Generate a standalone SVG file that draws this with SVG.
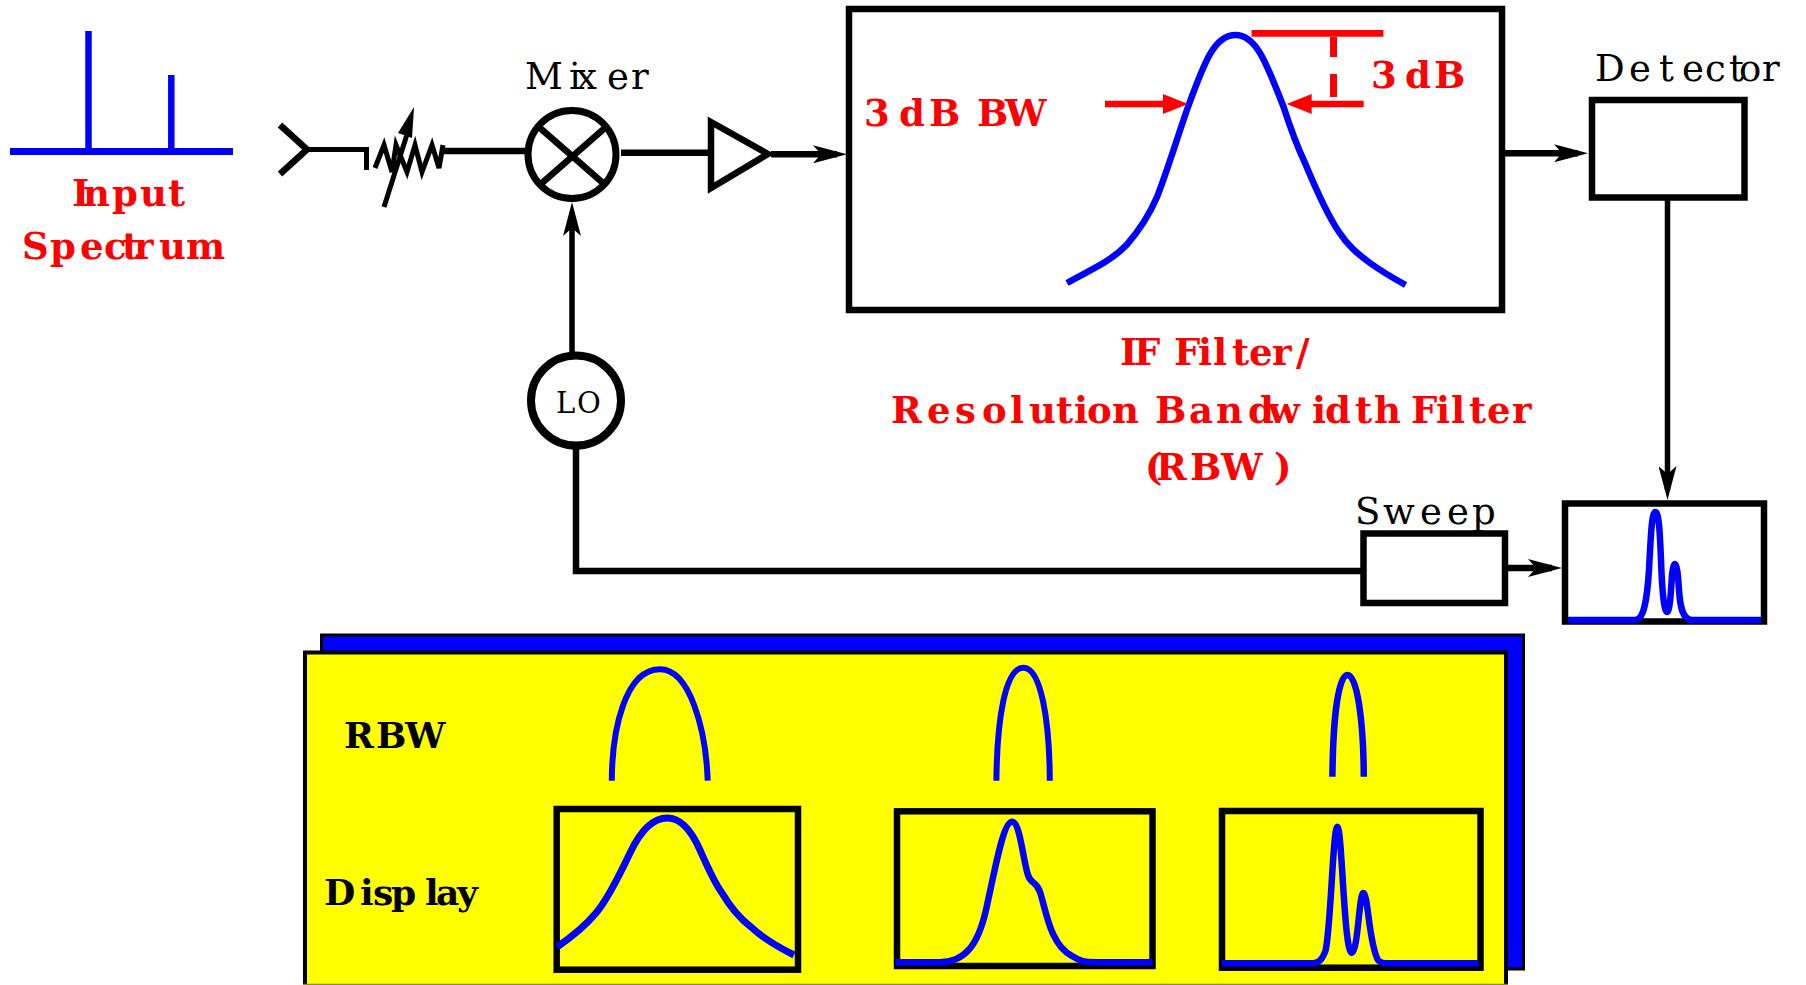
<svg xmlns="http://www.w3.org/2000/svg" width="1806" height="985" viewBox="0 0 1806 985">
<style>
.l{fill:none;stroke:#000;stroke-width:6.5}
.b{fill:none;stroke:#00f;stroke-width:6.5}
.box{fill:#fff;stroke:#000;stroke-width:6.5}
.ybox{fill:#ff0;stroke:#000;stroke-width:6.5}
.red{font-family:"DejaVu Serif",serif;font-weight:bold;font-size:37px;fill:#f00}
.blk{font-family:"DejaVu Serif",serif;font-size:37px;fill:#000}
.bb{font-family:"DejaVu Serif",serif;font-weight:bold;font-size:36px;fill:#000}
</style>
<defs>
<marker id="ah" markerUnits="userSpaceOnUse" markerWidth="36" markerHeight="18" viewBox="0 0 34 18" refX="24" refY="9" orient="auto"><path d="M0 0L34 9L0 18L8 9Z" fill="#000"/></marker>
<marker id="rh" markerUnits="userSpaceOnUse" markerWidth="26" markerHeight="20" viewBox="0 0 25 20" refX="4" refY="10" orient="auto"><path d="M0 0L25 10L0 20Z" fill="#f00"/></marker>
</defs>
<rect width="1806" height="985" fill="#fff"/>
<g id="input-spectrum">
<path d="M10 151.500H233" class="b" style="stroke-width:7"/>
<path d="M88.500 31V150M171.300 75V150" class="b"/>
<text class="red" y="206" x="72 83 112 140 168">Input</text>
<text class="red" y="259" x="22 50 80 104 122 134 159 186">Spectrum</text>
</g>
<g id="antenna"><path d="M280 125L307 149.500L280 174" class="l"/></g>
<g id="attenuator">
<path d="M375 168L384 145L392 172L396 145L407 172L415 145L422 172L432 145L439 168L443 145" class="l" style="stroke-width:5"/>
<path d="M384 207L410 125" class="l" style="stroke-width:5"/>
<path d="M414 107L398 133L412 138Z" fill="#000"/>
</g>
<g id="mixer">
<circle cx="572" cy="154.500" r="44" class="box" style="stroke-width:7"/>
<path d="M540 128L603 183M606 127L542 183" class="l"/>
<text class="blk" y="89" x="525 569 576 607 631">Mixer</text>
</g>
<g id="amplifier"><path d="M711 122L768 154L711 188Z" class="box"/></g>
<g id="if-filter">
<rect x="849" y="9" width="653" height="301" class="box"/>
<path d="M1067 283C1090 270 1110 262 1126.500 245C1137 233 1148 218 1157 197C1167 172 1179 132 1188 107C1205 60 1215 35 1235.500 35C1256 35 1266 62 1283.600 107C1291 130 1297 146 1305 163C1315 187 1326 213 1339 232C1348 246 1358 254 1370 263C1381 271 1393 278 1405.600 285" class="b"/>
<path d="M1251.600 33.300H1383.400" fill="none" stroke="#f00" stroke-width="6.700"/>
<path d="M1333.500 37V57M1333.500 74V97" fill="none" stroke="#f00" stroke-width="7"/>
<path d="M1105 104H1167" fill="none" stroke="#f00" stroke-width="6.500" marker-end="url(#rh)"/>
<path d="M1363.700 104H1307.700" fill="none" stroke="#f00" stroke-width="6.500" marker-end="url(#rh)"/>
<text class="red" y="87.500" x="1371 1395 1405 1434">3 dB</text>
<text class="red" y="125.500" x="864 888 899 929 965 977 1005">3 dB BW</text>
<text class="red" y="365" x="1120 1134 1165 1174 1198 1213 1232 1249 1272 1296">IF Filter/</text>
<text class="red" y="422.500" x="891 927 955 982 1010 1029 1056 1074 1087 1112 1145 1155 1189 1216 1248 1268 1312 1325 1355 1374 1400 1411 1436 1451 1469 1487 1512">Resolution Bandwidth Filter</text>
<text class="red" y="480" x="1145 1156 1190 1221 1262 1274">(RBW )</text>
</g>
<g id="detector">
<rect x="1592" y="100" width="152.500" height="97.500" class="box"/>
<text class="blk" y="80.500" x="1595 1629 1659 1682 1705 1729 1739 1762">Detector</text>
</g>
<g id="lo">
<circle cx="576" cy="400.500" r="45" class="box" style="stroke-width:8"/>
<text class="blk" y="412.500" style="font-size:29px" x="556 577">LO</text>
</g>
<g id="sweep">
<rect x="1363.500" y="533.500" width="141.500" height="69.500" class="box"/>
<text class="blk" y="523.500" x="1355 1383 1420 1447 1472">Sweep</text>
</g>
<g id="display">
<rect x="1565" y="503.500" width="199" height="118" class="box"/>
<path d="M1568 620H1635C1644 620 1647 600 1649 570C1651 530 1652 512 1655.500 512C1659 512 1660 535 1661 560C1662 590 1664 612 1667 612C1670 612 1671 590 1672 575C1673 567 1674 564 1675 564C1677 564 1678 575 1679 590C1680 605 1682 620 1692 620H1761" class="b"/>
</g>
<g id="connectors" class="l">
<path d="M307 149.500H366.500V170" class="l" style="stroke-width:5"/>
<path d="M443 151H525" class="l"/>
<path d="M621 152.700H711" class="l"/>
<path d="M771 154.300H837" class="l" marker-end="url(#ah)"/>
<path d="M1505 153.300H1578" class="l" marker-end="url(#ah)"/>
<path d="M1667.500 200V490" class="l" style="stroke-width:5.500" marker-end="url(#ah)"/>
<path d="M572 352V212" class="l" style="stroke-width:5.500" marker-end="url(#ah)"/>
<path d="M576 448V571H1363" class="l"/>
<path d="M1508 568H1552" class="l" marker-end="url(#ah)"/>
</g>
<g id="rbw-panel">
<rect x="321.500" y="635" width="1202" height="334" fill="#00f" stroke="#000" stroke-width="3"/>
<rect x="305" y="652.500" width="1201" height="334" fill="#ff0" stroke="#000" stroke-width="4"/>
<path d="M303 984.500H1508" stroke="#8c8c00" stroke-width="1.500"/>
<text class="bb" y="748" x="344 376 405">RBW</text>
<text class="bb" y="905" x="324 360 373 391 425 436 457">Display</text>
<path d="M611.800 780.700C612 730 625 669.300 660 669.300C690 669.300 706 730 707.700 780.700" class="b" style="stroke-width:6"/>
<path d="M996.400 780.700C997 720 1005 667.700 1023.400 667.700C1041 667.700 1049.500 720 1049.800 780.700" class="b" style="stroke-width:6"/>
<path d="M1332.400 776.700C1333 720 1338 675 1347.500 675C1357 675 1363.500 720 1363.800 776.700" class="b"/>
</g>
<g id="display-wide">
<rect x="556.700" y="809" width="241.300" height="160.700" class="ybox"/>
<path d="M557 947C573 936 586 925 596 913C608 899 621 872 630 853C638 836 650 818 667.500 818C682 818 692 832 700 850C708 868 714 882 722 893C732 910 742 920 751 927C765 940 780 948 794 955" class="b" style="stroke-width:7"/>
</g>
<g id="display-medium">
<rect x="897" y="811.300" width="255.500" height="154.700" class="ybox"/>
<path d="M895.400 962.300H940C965 962 978 945 986 910C995 870 1003 821.700 1012 821.700C1020 821.700 1023 860 1028 875C1031 885 1036 880 1040 892C1046 910 1050 945 1072 956C1080 961 1085 962.300 1095 962.300H1152.600" class="b"/>
</g>
<g id="display-narrow">
<rect x="1222" y="811" width="258.500" height="156.700" class="ybox"/>
<path d="M1222 963.300H1311C1320 963.300 1323 958 1325.700 950C1331 925 1333 826.700 1337.400 826.700C1342 826.700 1344 953 1351.700 953C1358 953 1359 893 1363.400 893C1368 893 1369 945 1378 960C1380 963 1384 963.300 1388.500 963.300H1478.500" class="b"/>
</g>
</svg>
